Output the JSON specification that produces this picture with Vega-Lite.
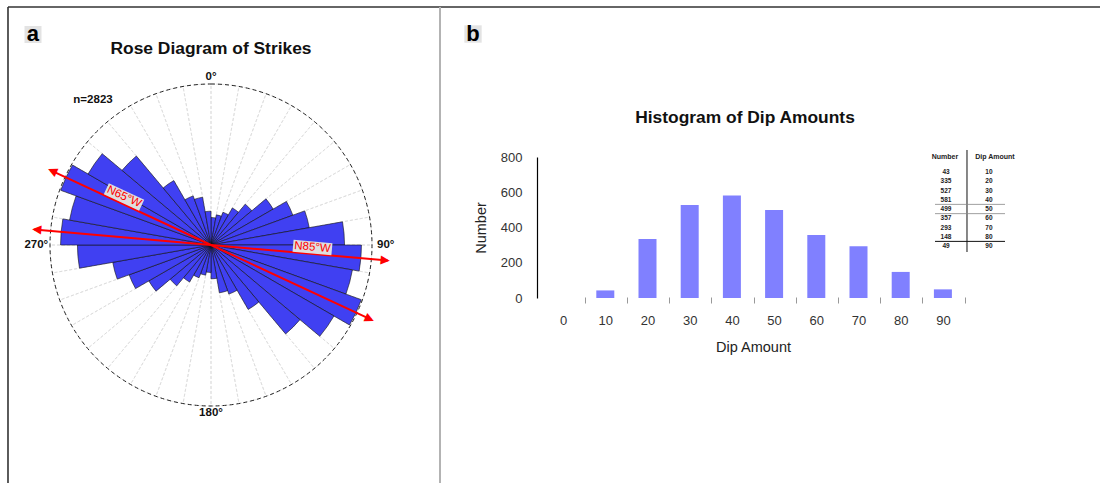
{
  "$schema": "https://vega.github.io/schema/vega-lite/v6.json",
  "width": 1101,
  "height": 484,
  "autosize": {"type": "fit", "contains": "padding"},
  "padding": 0,
  "background": "white",
  "config": {"view": {"stroke": null}, "font": "Liberation Sans", "text": {"font": "Liberation Sans"}},
  "datasets": {
    "strikes": [
      {"start": 0, "end": 10, "count": 52}, {"start": 10, "end": 20, "count": 58}, {"start": 20, "end": 30, "count": 66},
      {"start": 30, "end": 40, "count": 81}, {"start": 40, "end": 50, "count": 101}, {"start": 50, "end": 60, "count": 136},
      {"start": 60, "end": 70, "count": 165}, {"start": 70, "end": 80, "count": 189}, {"start": 80, "end": 90, "count": 253},
      {"start": 90, "end": 100, "count": 285}, {"start": 100, "end": 110, "count": 272}, {"start": 110, "end": 120, "count": 303},
      {"start": 120, "end": 130, "count": 269}, {"start": 130, "end": 140, "count": 220}, {"start": 140, "end": 150, "count": 141},
      {"start": 150, "end": 160, "count": 99}, {"start": 160, "end": 170, "count": 92}, {"start": 170, "end": 180, "count": 64},
      {"start": 180, "end": 190, "count": 52}, {"start": 190, "end": 200, "count": 58}, {"start": 200, "end": 210, "count": 66},
      {"start": 210, "end": 220, "count": 81}, {"start": 220, "end": 230, "count": 101}, {"start": 230, "end": 240, "count": 136},
      {"start": 240, "end": 250, "count": 165}, {"start": 250, "end": 260, "count": 189}, {"start": 260, "end": 270, "count": 253},
      {"start": 270, "end": 280, "count": 285}, {"start": 280, "end": 290, "count": 272}, {"start": 290, "end": 300, "count": 303},
      {"start": 300, "end": 310, "count": 269}, {"start": 310, "end": 320, "count": 220}, {"start": 320, "end": 330, "count": 141},
      {"start": 330, "end": 340, "count": 99}, {"start": 340, "end": 350, "count": 92}, {"start": 350, "end": 360, "count": 64}
    ],
    "arrows": [{"az": 295}, {"az": 115}, {"az": 275}, {"az": 95}],
    "dips": [
      {"dip": 10, "number": 43}, {"dip": 20, "number": 335}, {"dip": 30, "number": 527},
      {"dip": 40, "number": 581}, {"dip": 50, "number": 499}, {"dip": 60, "number": 357},
      {"dip": 70, "number": 293}, {"dip": 80, "number": 148}, {"dip": 90, "number": 49}
    ]
  },
  "layer": [
    {
      "layer": [
        {
          "data": {"name": "strikes"},
          "mark": {"type": "arc", "fill": "transparent", "stroke": "#dcdcdc", "strokeWidth": 0.8, "strokeDash": [3, 2]},
          "encoding": {
            "x": {"datum": 0, "type": "quantitative", "scale": {"domain": [-1, 1], "range": [50, 372], "nice": false, "zero": false}, "axis": null},
            "y": {"datum": 0, "type": "quantitative", "scale": {"domain": [-1, 1], "range": [406, 84], "nice": false, "zero": false}, "axis": null},
            "theta": {"field": "start", "type": "quantitative", "scale": {"domain": [0, 360], "range": [0, 6.283185307179586]}, "stack": null},
            "theta2": {"field": "end"},
            "radius": {"datum": 305, "type": "quantitative", "scale": {"type": "linear", "domain": [0, 305], "range": [0, 161], "zero": true}}
          }
        },
        {
          "data": {"name": "strikes"},
          "mark": {"type": "arc", "fill": "#4040f2", "stroke": "#111111", "strokeWidth": 0.6},
          "encoding": {
            "x": {"datum": 0, "type": "quantitative", "scale": {"domain": [-1, 1], "range": [50, 372], "nice": false, "zero": false}, "axis": null},
            "y": {"datum": 0, "type": "quantitative", "scale": {"domain": [-1, 1], "range": [406, 84], "nice": false, "zero": false}, "axis": null},
            "theta": {"field": "start", "type": "quantitative", "scale": {"domain": [0, 360], "range": [0, 6.283185307179586]}, "stack": null},
            "theta2": {"field": "end"},
            "radius": {"field": "count", "type": "quantitative", "scale": {"type": "linear", "domain": [0, 305], "range": [0, 161], "zero": true}}
          }
        },
        {
          "data": {"values": [{}]},
          "mark": {"type": "arc", "fill": "transparent", "stroke": "#222222", "strokeWidth": 1, "strokeDash": [4, 3]},
          "encoding": {
            "x": {"datum": 0, "type": "quantitative", "scale": {"domain": [-1, 1], "range": [50, 372], "nice": false, "zero": false}, "axis": null},
            "y": {"datum": 0, "type": "quantitative", "scale": {"domain": [-1, 1], "range": [406, 84], "nice": false, "zero": false}, "axis": null},
            "theta": {"datum": 0, "type": "quantitative", "scale": {"domain": [0, 360], "range": [0, 6.283185307179586]}, "stack": null},
            "theta2": {"datum": 360},
            "radius": {"datum": 305, "type": "quantitative", "scale": {"type": "linear", "domain": [0, 305], "range": [0, 161], "zero": true}}
          }
        },
        {
          "data": {"name": "arrows"},
          "mark": {"type": "arc", "fill": "transparent", "stroke": "#ff0000", "strokeWidth": 2},
          "encoding": {
            "x": {"datum": 0, "type": "quantitative", "scale": {"domain": [-1, 1], "range": [50, 372], "nice": false, "zero": false}, "axis": null},
            "y": {"datum": 0, "type": "quantitative", "scale": {"domain": [-1, 1], "range": [406, 84], "nice": false, "zero": false}, "axis": null},
            "theta": {"field": "az", "type": "quantitative", "scale": {"domain": [0, 360], "range": [0, 6.283185307179586]}, "stack": null},
            "theta2": {"field": "az"},
            "radius": {"datum": 336, "type": "quantitative", "scale": {"type": "linear", "domain": [0, 305], "range": [0, 161], "zero": true}}
          }
        },
        {
          "data": {"name": "arrows"},
          "mark": {"type": "text", "text": "▲", "font": "DejaVu Sans", "fontSize": 12, "color": "#ff0000", "align": "center", "baseline": "middle"},
          "encoding": {
            "x": {"datum": 0, "type": "quantitative", "scale": {"domain": [-1, 1], "range": [50, 372], "nice": false, "zero": false}, "axis": null},
            "y": {"datum": 0, "type": "quantitative", "scale": {"domain": [-1, 1], "range": [406, 84], "nice": false, "zero": false}, "axis": null},
            "theta": {"field": "az", "type": "quantitative", "scale": {"domain": [0, 360], "range": [0, 6.283185307179586]}, "stack": null},
            "radius": {"datum": 333, "type": "quantitative", "scale": {"type": "linear", "domain": [0, 305], "range": [0, 161], "zero": true}},
            "angle": {"field": "az", "type": "quantitative", "scale": null}
          }
        },
        {
          "data": {"values": [{}]},
          "mark": {"type": "point", "shape": "M-1,-0.31L1,-0.31L1,0.31L-1,0.31Z", "size": 1521, "filled": true, "fill": "#dedede", "opacity": 1, "strokeWidth": 0, "angle": 25},
          "encoding": {
            "x": {"datum": -0.5404, "type": "quantitative", "scale": {"domain": [-1, 1], "range": [50, 372], "nice": false, "zero": false}, "axis": null},
            "y": {"datum": 0.2981, "type": "quantitative", "scale": {"domain": [-1, 1], "range": [406, 84], "nice": false, "zero": false}, "axis": null}
          }
        },
        {
          "data": {"values": [{}]},
          "mark": {"type": "text", "text": "N65°W", "fontSize": 11.5, "color": "#ff0000", "angle": 25, "align": "center", "baseline": "middle"},
          "encoding": {
            "x": {"datum": -0.5404, "type": "quantitative", "scale": {"domain": [-1, 1], "range": [50, 372], "nice": false, "zero": false}, "axis": null},
            "y": {"datum": 0.2981, "type": "quantitative", "scale": {"domain": [-1, 1], "range": [406, 84], "nice": false, "zero": false}, "axis": null}
          }
        },
        {
          "data": {"values": [{}]},
          "mark": {"type": "point", "shape": "M-1,-0.31L1,-0.31L1,0.31L-1,0.31Z", "size": 1521, "filled": true, "fill": "#dedede", "opacity": 1, "strokeWidth": 0, "angle": 5},
          "encoding": {
            "x": {"datum": 0.6304, "type": "quantitative", "scale": {"domain": [-1, 1], "range": [50, 372], "nice": false, "zero": false}, "axis": null},
            "y": {"datum": -0.0155, "type": "quantitative", "scale": {"domain": [-1, 1], "range": [406, 84], "nice": false, "zero": false}, "axis": null}
          }
        },
        {
          "data": {"values": [{}]},
          "mark": {"type": "text", "text": "N85°W", "fontSize": 11.5, "color": "#ff0000", "angle": 5, "align": "center", "baseline": "middle"},
          "encoding": {
            "x": {"datum": 0.6304, "type": "quantitative", "scale": {"domain": [-1, 1], "range": [50, 372], "nice": false, "zero": false}, "axis": null},
            "y": {"datum": -0.0155, "type": "quantitative", "scale": {"domain": [-1, 1], "range": [406, 84], "nice": false, "zero": false}, "axis": null}
          }
        },
        {
          "data": {"values": [{"label": "0°", "az": 0}, {"label": "180°", "az": 180}]},
          "mark": {"type": "text", "fontSize": 11.5, "fontWeight": "bold", "color": "#111111", "align": "center", "baseline": "middle"},
          "encoding": {
            "x": {"datum": 0, "type": "quantitative", "scale": {"domain": [-1, 1], "range": [50, 372], "nice": false, "zero": false}, "axis": null},
            "y": {"datum": 0, "type": "quantitative", "scale": {"domain": [-1, 1], "range": [406, 84], "nice": false, "zero": false}, "axis": null},
            "theta": {"field": "az", "type": "quantitative", "scale": {"domain": [0, 360], "range": [0, 6.283185307179586]}, "stack": null},
            "radius": {"datum": 318, "type": "quantitative", "scale": {"type": "linear", "domain": [0, 305], "range": [0, 161], "zero": true}},
            "text": {"field": "label"}
          }
        },
        {
          "data": {"values": [{"label": "90°", "az": 90}, {"label": "270°", "az": 270}]},
          "mark": {"type": "text", "fontSize": 11.5, "fontWeight": "bold", "color": "#111111", "align": "center", "baseline": "middle"},
          "encoding": {
            "x": {"datum": 0, "type": "quantitative", "scale": {"domain": [-1, 1], "range": [50, 372], "nice": false, "zero": false}, "axis": null},
            "y": {"datum": 0, "type": "quantitative", "scale": {"domain": [-1, 1], "range": [406, 84], "nice": false, "zero": false}, "axis": null},
            "theta": {"field": "az", "type": "quantitative", "scale": {"domain": [0, 360], "range": [0, 6.283185307179586]}, "stack": null},
            "radius": {"datum": 331, "type": "quantitative", "scale": {"type": "linear", "domain": [0, 305], "range": [0, 161], "zero": true}},
            "text": {"field": "label"}
          }
        },
        {
          "data": {"values": [{}]},
          "mark": {"type": "text", "text": "n=2823", "fontSize": 11.5, "fontWeight": "bold", "color": "#111111", "align": "center", "baseline": "middle"},
          "encoding": {
            "x": {"datum": -0.7329, "type": "quantitative", "scale": {"domain": [-1, 1], "range": [50, 372], "nice": false, "zero": false}, "axis": null},
            "y": {"datum": 0.9006, "type": "quantitative", "scale": {"domain": [-1, 1], "range": [406, 84], "nice": false, "zero": false}, "axis": null}
          }
        },
        {
          "data": {"values": [{}]},
          "mark": {"type": "text", "text": "Rose Diagram of Strikes", "fontSize": 17.4, "fontWeight": "bold", "color": "#111111", "align": "center", "baseline": "middle"},
          "encoding": {
            "x": {"datum": 0, "type": "quantitative", "scale": {"domain": [-1, 1], "range": [50, 372], "nice": false, "zero": false}, "axis": null},
            "y": {"datum": 1.2174, "type": "quantitative", "scale": {"domain": [-1, 1], "range": [406, 84], "nice": false, "zero": false}, "axis": null}
          }
        },
        {
          "data": {"values": [{}]},
          "mark": {"type": "point", "shape": "square", "size": 289, "filled": true, "fill": "#e3e3e3", "opacity": 1, "strokeWidth": 0},
          "encoding": {
            "x": {"datum": -1.1056, "type": "quantitative", "scale": {"domain": [-1, 1], "range": [50, 372], "nice": false, "zero": false}, "axis": null},
            "y": {"datum": 1.3075, "type": "quantitative", "scale": {"domain": [-1, 1], "range": [406, 84], "nice": false, "zero": false}, "axis": null}
          }
        },
        {
          "data": {"values": [{}]},
          "mark": {"type": "text", "text": "a", "fontSize": 22, "fontWeight": "bold", "color": "#000000", "align": "center", "baseline": "alphabetic"},
          "encoding": {
            "x": {"datum": -1.1056, "type": "quantitative", "scale": {"domain": [-1, 1], "range": [50, 372], "nice": false, "zero": false}, "axis": null},
            "y": {"datum": 1.2671, "type": "quantitative", "scale": {"domain": [-1, 1], "range": [406, 84], "nice": false, "zero": false}, "axis": null}
          }
        },
        {
          "data": {"values": [{}]},
          "mark": {"type": "rule", "color": "#333333", "strokeWidth": 1.6},
          "encoding": {
            "x": {"datum": -1.2609, "type": "quantitative", "scale": {"domain": [-1, 1], "range": [50, 372], "nice": false, "zero": false}, "axis": null},
            "x2": {"datum": 5.5217},
            "y": {"datum": 1.4783, "type": "quantitative", "scale": {"domain": [-1, 1], "range": [406, 84], "nice": false, "zero": false}, "axis": null}
          }
        },
        {
          "data": {"values": [{}]},
          "mark": {"type": "rule", "color": "#333333", "strokeWidth": 1.6},
          "encoding": {
            "x": {"datum": -1.2609, "type": "quantitative", "scale": {"domain": [-1, 1], "range": [50, 372], "nice": false, "zero": false}, "axis": null},
            "y": {"datum": 1.4783, "type": "quantitative", "scale": {"domain": [-1, 1], "range": [406, 84], "nice": false, "zero": false}, "axis": null},
            "y2": {"datum": -1.4783}
          }
        },
        {
          "data": {"values": [{}]},
          "mark": {"type": "rule", "color": "#b3b3b3", "strokeWidth": 2},
          "encoding": {
            "x": {"datum": 1.4224, "type": "quantitative", "scale": {"domain": [-1, 1], "range": [50, 372], "nice": false, "zero": false}, "axis": null},
            "y": {"datum": 1.4783, "type": "quantitative", "scale": {"domain": [-1, 1], "range": [406, 84], "nice": false, "zero": false}, "axis": null},
            "y2": {"datum": -1.4783}
          }
        }
      ]
    },
    {
      "data": {"name": "dips"},
      "mark": {"type": "bar", "width": 18, "fill": "#8080ff", "orient": "vertical"},
      "encoding": {
        "x": {
          "field": "dip", "type": "quantitative",
          "scale": {"domain": [-5, 95], "range": [537, 969], "nice": false, "zero": false},
          "axis": {"orient": "bottom", "offset": -186, "zindex": 2, "values": [0, 10, 20, 30, 40, 50, 60, 70, 80, 90], "domain": false, "grid": false,
                   "ticks": true, "tickSize": 6, "tickColor": "#999999", "tickWidth": 1, "tickOffset": 21.6, "labelOffset": -21.6,
                   "labelPadding": 11, "labelFontSize": 13, "labelColor": "#333333", "labelFont": "Liberation Sans", "labelFlush": false, "labelOverlap": false,
                   "title": "Dip Amount", "titleFont": "Liberation Sans", "titleFontSize": 14.5, "titleFontWeight": "normal", "titleColor": "#222222", "titlePadding": 13}
        },
        "y": {
          "field": "number", "type": "quantitative",
          "scale": {"domain": [0, 800], "range": [298, 157], "nice": false, "zero": false},
          "axis": {"orient": "left", "offset": -537, "zindex": 2, "values": [0, 200, 400, 600, 800], "domain": true, "domainColor": "#000000", "domainWidth": 1.2, "grid": false,
                   "ticks": false, "tickSize": 0, "labelPadding": 15, "labelFontSize": 13, "labelColor": "#333333", "labelFont": "Liberation Sans", "labelFlush": false,
                   "title": "Number", "titleFont": "Liberation Sans", "titleFontSize": 14.5, "titleFontWeight": "normal", "titleColor": "#222222", "titlePadding": 12}
        }
      }
    },
    {
      "layer": [
        {
          "data": {"values": [{}]},
          "mark": {"type": "text", "text": "Histogram of Dip Amounts", "fontSize": 17.4, "fontWeight": "bold", "color": "#111111", "align": "center", "baseline": "middle"},
          "encoding": {
            "x": {"datum": 43.15, "type": "quantitative", "scale": {"domain": [-5, 95], "range": [537, 969], "nice": false, "zero": false}, "axis": null},
            "y": {"datum": 1021, "type": "quantitative", "scale": {"domain": [0, 800], "range": [298, 157], "nice": false, "zero": false}, "axis": null}
          }
        },
        {
          "data": {"values": [{}]},
          "mark": {"type": "point", "shape": "square", "size": 300, "filled": true, "fill": "#e3e3e3", "opacity": 1, "strokeWidth": 0},
          "encoding": {
            "x": {"datum": -19.81, "type": "quantitative", "scale": {"domain": [-5, 95], "range": [537, 969], "nice": false, "zero": false}, "axis": null},
            "y": {"datum": 1497.9, "type": "quantitative", "scale": {"domain": [0, 800], "range": [298, 157], "nice": false, "zero": false}, "axis": null}
          }
        },
        {
          "data": {"values": [{}]},
          "mark": {"type": "text", "text": "b", "fontSize": 22, "fontWeight": "bold", "color": "#000000", "align": "center", "baseline": "alphabetic"},
          "encoding": {
            "x": {"datum": -19.81, "type": "quantitative", "scale": {"domain": [-5, 95], "range": [537, 969], "nice": false, "zero": false}, "axis": null},
            "y": {"datum": 1458.2, "type": "quantitative", "scale": {"domain": [0, 800], "range": [298, 157], "nice": false, "zero": false}, "axis": null}
          }
        }
      ]
    },
    {
      "layer": [
        {
          "data": {"values": [{}]},
          "mark": {"type": "text", "text": "Number", "fontSize": 7, "fontWeight": "bold", "color": "#222222", "align": "center", "baseline": "middle"},
          "encoding": {
            "x": {"datum": 0.143, "type": "quantitative", "scale": {"domain": [0, 1], "range": [935, 1005], "nice": false, "zero": false}, "axis": null},
            "y": {"datum": -6.2, "type": "quantitative", "scale": {"domain": [10, 90], "range": [172, 246], "nice": false, "zero": false}, "axis": null}
          }
        },
        {
          "data": {"values": [{}]},
          "mark": {"type": "text", "text": "Dip Amount", "fontSize": 7, "fontWeight": "bold", "color": "#222222", "align": "center", "baseline": "middle"},
          "encoding": {
            "x": {"datum": 0.857, "type": "quantitative", "scale": {"domain": [0, 1], "range": [935, 1005], "nice": false, "zero": false}, "axis": null},
            "y": {"datum": -6.2, "type": "quantitative", "scale": {"domain": [10, 90], "range": [172, 246], "nice": false, "zero": false}, "axis": null}
          }
        },
        {
          "data": {"name": "dips"},
          "mark": {"type": "text", "fontSize": 6.5, "fontWeight": "bold", "color": "#222222", "align": "center", "baseline": "middle"},
          "encoding": {
            "x": {"datum": 0.157, "type": "quantitative", "scale": {"domain": [0, 1], "range": [935, 1005], "nice": false, "zero": false}, "axis": null},
            "y": {"field": "dip", "type": "quantitative", "scale": {"domain": [10, 90], "range": [172, 246], "nice": false, "zero": false}, "axis": null},
            "text": {"field": "number"}
          }
        },
        {
          "data": {"name": "dips"},
          "mark": {"type": "text", "fontSize": 6.5, "fontWeight": "bold", "color": "#222222", "align": "center", "baseline": "middle"},
          "encoding": {
            "x": {"datum": 0.771, "type": "quantitative", "scale": {"domain": [0, 1], "range": [935, 1005], "nice": false, "zero": false}, "axis": null},
            "y": {"field": "dip", "type": "quantitative", "scale": {"domain": [10, 90], "range": [172, 246], "nice": false, "zero": false}, "axis": null},
            "text": {"field": "dip"}
          }
        },
        {
          "data": {"values": [{}]},
          "mark": {"type": "rule", "color": "#111111", "strokeWidth": 1},
          "encoding": {
            "x": {"datum": 0.457, "type": "quantitative", "scale": {"domain": [0, 1], "range": [935, 1005], "nice": false, "zero": false}, "axis": null},
            "y": {"datum": -13.8, "type": "quantitative", "scale": {"domain": [10, 90], "range": [172, 246], "nice": false, "zero": false}, "axis": null},
            "y2": {"datum": 96.5}
          }
        },
        {
          "data": {"values": [{}]},
          "mark": {"type": "rule", "color": "#888888", "strokeWidth": 0.8},
          "encoding": {
            "x": {"datum": 0, "type": "quantitative", "scale": {"domain": [0, 1], "range": [935, 1005], "nice": false, "zero": false}, "axis": null},
            "x2": {"datum": 1},
            "y": {"datum": 45, "type": "quantitative", "scale": {"domain": [10, 90], "range": [172, 246], "nice": false, "zero": false}, "axis": null}
          }
        },
        {
          "data": {"values": [{}]},
          "mark": {"type": "rule", "color": "#888888", "strokeWidth": 0.8},
          "encoding": {
            "x": {"datum": 0, "type": "quantitative", "scale": {"domain": [0, 1], "range": [935, 1005], "nice": false, "zero": false}, "axis": null},
            "x2": {"datum": 1},
            "y": {"datum": 55, "type": "quantitative", "scale": {"domain": [10, 90], "range": [172, 246], "nice": false, "zero": false}, "axis": null}
          }
        },
        {
          "data": {"values": [{}]},
          "mark": {"type": "rule", "color": "#111111", "strokeWidth": 1},
          "encoding": {
            "x": {"datum": 0, "type": "quantitative", "scale": {"domain": [0, 1], "range": [935, 1005], "nice": false, "zero": false}, "axis": null},
            "x2": {"datum": 1},
            "y": {"datum": 85, "type": "quantitative", "scale": {"domain": [10, 90], "range": [172, 246], "nice": false, "zero": false}, "axis": null}
          }
        }
      ]
    }
  ],
  "resolve": {"scale": {"x": "independent", "y": "independent"}, "axis": {"x": "independent", "y": "independent"}}
}
